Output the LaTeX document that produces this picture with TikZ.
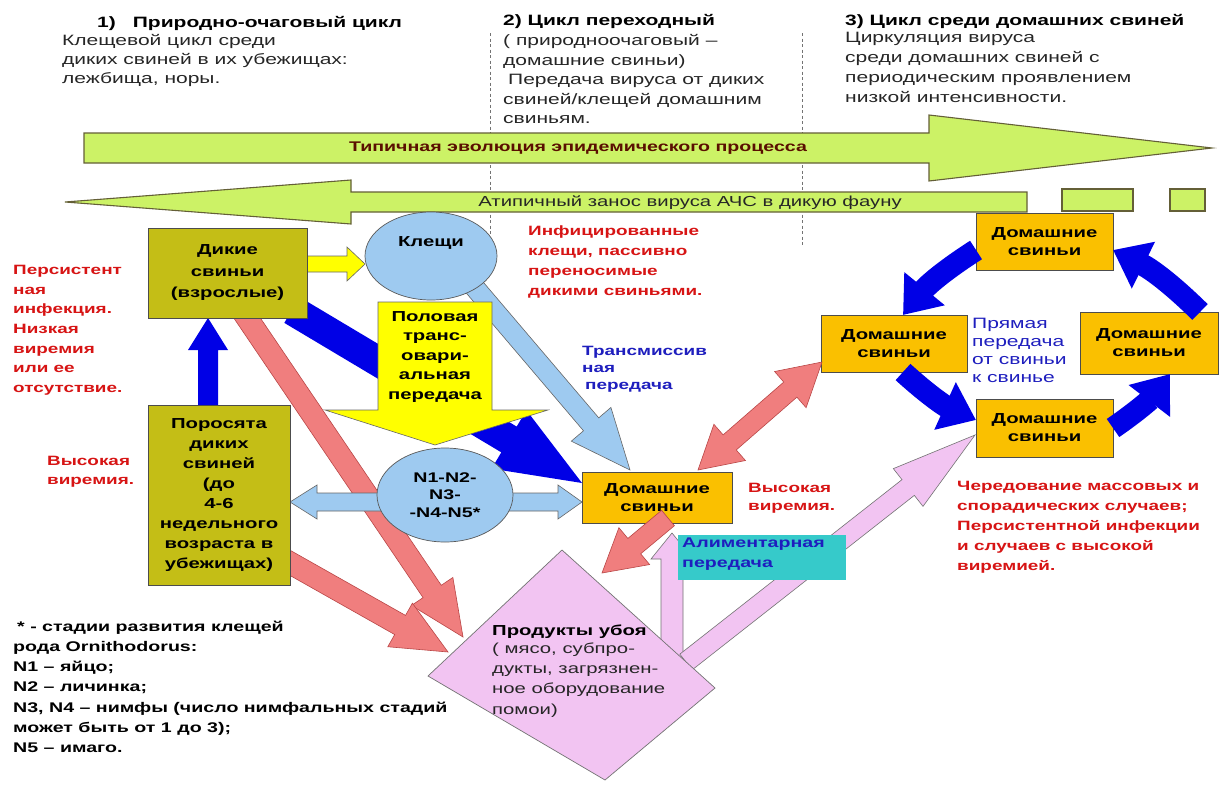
\documentclass[tikz,border=0pt]{standalone}
\usepackage{fontspec}
\setmainfont{Liberation Sans}[FakeStretch=1.4]
\usetikzlibrary{calc,arrows.meta,shapes.geometric}
\definecolor{limeg}{RGB}{204,242,102}
\definecolor{limeo}{RGB}{100,95,55}
\definecolor{olivebx}{RGB}{196,190,22}
\definecolor{goldbx}{RGB}{250,192,0}
\definecolor{lblue}{RGB}{158,202,240}
\definecolor{yel}{RGB}{255,255,0}
\definecolor{dblue}{RGB}{0,0,230}
\definecolor{salmon}{RGB}{240,126,126}
\definecolor{salmono}{RGB}{185,70,70}
\definecolor{pinkv}{RGB}{242,196,242}
\definecolor{teal2}{RGB}{54,202,202}
\definecolor{redtxt}{RGB}{215,20,20}
\definecolor{bluetxt}{RGB}{30,30,190}
\definecolor{titletxt}{RGB}{90,15,0}
\newcommand{\blockarrow}[6]{%
  \path[#1] ($(#2)!#4pt!90:(#3)$)
    -- ($(#3)!#6pt!(#2)!#4pt!90:(#3)$)
    -- ($(#3)!#6pt!(#2)!#5pt!90:(#3)$)
    -- (#3)
    -- ($(#3)!#6pt!(#2)!#5pt!-90:(#3)$)
    -- ($(#3)!#6pt!(#2)!#4pt!-90:(#3)$)
    -- ($(#2)!#4pt!-90:(#3)$) -- cycle;}
\newcommand{\dblarrow}[6]{%
  \path[#1] (#2)
    -- ($(#2)!#6pt!(#3)!#5pt!90:(#3)$)
    -- ($(#2)!#6pt!(#3)!#4pt!90:(#3)$)
    -- ($(#3)!#6pt!(#2)!#4pt!90:(#3)$)
    -- ($(#3)!#6pt!(#2)!#5pt!90:(#3)$)
    -- (#3)
    -- ($(#3)!#6pt!(#2)!#5pt!-90:(#3)$)
    -- ($(#3)!#6pt!(#2)!#4pt!-90:(#3)$)
    -- ($(#2)!#6pt!(#3)!#4pt!-90:(#3)$)
    -- ($(#2)!#6pt!(#3)!#5pt!-90:(#3)$)
    -- cycle;}
\begin{document}
\begin{tikzpicture}[x=1pt,y=-1pt,
  every node/.style={inner sep=0pt},
  txt/.style n args={2}{font=\fontsize{#1}{#2}\selectfont, anchor=north west, align=left,
     execute at begin node={\rule{0pt}{.85\dimexpr#1pt\relax}}},
  box/.style={draw=black!70, line width=0.8pt, align=center,
     font=\fontsize{14.5}{18}\selectfont\bfseries},
  olive/.style={box, fill=olivebx},
  gold/.style={box, fill=goldbx},
  greenar/.style={fill=limeg, draw=limeo, line width=1.1pt},
  bluear/.style={fill=dblue},
  redar/.style={fill=salmon, draw=salmono, line width=0.6pt},
  lbluear/.style={fill=lblue, draw=black!60, line width=0.6pt},
  yelar/.style={fill=yel, draw=black!60, line width=0.6pt},
  pinkar/.style={fill=pinkv, draw=black!55, line width=0.6pt},
  ringar/.style={line width=22pt, draw=dblue, -{Triangle[width=50pt,length=34pt]}},
  sep/.style={draw=black!55, line width=0.9pt, dash pattern=on 3pt off 2.5pt}
]
\useasboundingbox[fill=white] (0,0) rectangle (1225,787);

% ---- header texts
\node[txt={15}{19.5}, font=\fontsize{15}{19.5}\selectfont\bfseries] (h1) at (97,14.2) {1)\hspace{17pt}Природно-очаговый цикл};
\node[txt={15}{19}, text=black!85] (b1) at (62,34.2) {Клещевой цикл среди\\диких свиней в их убежищах:\\лежбища, норы.};
\node[txt={15}{19.5}, font=\fontsize{15}{19.5}\selectfont\bfseries] (h2) at (503,12.2) {2) Цикл переходный};
\node[txt={15}{19.5}, text=black!85] (b2) at (503,34.2) {( природноочаговый –\\домашние свиньи)\\\hspace{5pt}Передача вируса от диких\\свиней/клещей домашним\\свиньям.};
\node[txt={15}{20}, font=\fontsize{15}{20}\selectfont\bfseries] (h3) at (845,12.2) {3) Цикл среди домашних свиней};
\node[txt={15}{20}, text=black!85] (b3) at (845,32.2) {Циркуляция вируса\\среди домашних свиней с\\периодическим проявлением\\низкой интенсивности.};

% ---- dashed separators
\coordinate (s1a) at (490,33); \coordinate (s1b) at (490,235);
\coordinate (s2a) at (802,33); \coordinate (s2b) at (802,245);
\draw[sep] (s1a) -- (s1b);
\draw[sep] (s2a) -- (s2b);

% ---- big green arrows
\path[greenar] (84,133) -- (929,133) -- (929,115) -- (1212,148) -- (929,181) -- (929,163) -- (84,163) -- cycle;
\node[font=\fontsize{14}{16}\selectfont\bfseries, text=titletxt] (typ) at (578,148) {Типичная эволюция эпидемического процесса};
\path[greenar] (1027,192) -- (351,192) -- (351,180) -- (65,202) -- (351,224) -- (351,212) -- (1027,212) -- cycle;
\node[font=\fontsize{14.5}{16}\selectfont, text=black!85] (atyp) at (690,203) {Атипичный занос вируса АЧС в дикую фауну};
\node[draw=limeo, line width=1.1pt, fill=limeg, minimum width=71pt, minimum height=22pt] (sq1) at (1097.5,200) {};
\node[draw=limeo, line width=1.1pt, fill=limeg, minimum width=35pt, minimum height=22pt] (sq2) at (1187.5,200) {};

% ---- connector end points
\coordinate (bA) at (292,310);  \coordinate (bB) at (582,483);
\coordinate (dA) at (470,282);  \coordinate (dB) at (630,470);
\coordinate (rA1) at (243,312); \coordinate (rB1) at (463,637);
\coordinate (rA2) at (285,560); \coordinate (rB2) at (448,652);
\coordinate (yA) at (300,264);  \coordinate (yB) at (365,264);
\coordinate (uA) at (208,410);  \coordinate (uB) at (208,318);
\coordinate (lA) at (395,502);  \coordinate (lB) at (290,502);
\coordinate (gA) at (495,502);  \coordinate (gB) at (582,502);
\coordinate (pA) at (672,662);  \coordinate (pB) at (672,533);
\coordinate (qA) at (686,662);  \coordinate (qB) at (975,435);
\coordinate (cA) at (668,518);  \coordinate (cB) at (602,573);
\coordinate (xA) at (698,470);  \coordinate (xB) at (822,362);

% ---- arrows behind the nodes
\blockarrow{bluear}{bA}{bB}{15}{34}{85}
\blockarrow{lbluear}{dA}{dB}{10}{26}{60}
\blockarrow{yelar}{yA}{yB}{8}{17}{18}
\blockarrow{bluear}{uA}{uB}{10}{20}{32}
% yellow transovarial arrow
\path[yelar] (378,302) -- (492,302) -- (492,410) -- (548,410) -- (435,445) -- (325,410) -- (378,410) -- cycle;
\node[align=center, font=\fontsize{14.5}{19.5}\selectfont\bfseries] (polov) at (435,357) {Половая\\транс-\\овари-\\альная\\передача};
\blockarrow{redar}{rA1}{rB1}{11}{25}{55}
\blockarrow{redar}{rA2}{rB2}{11}{25}{55}

% ---- ellipses
\node[ellipse, fill=lblue, draw=black!65, line width=0.7pt, minimum width=132pt, minimum height=88pt] (klesh) at (431,256) {};
\node[font=\fontsize{14.5}{17}\selectfont\bfseries] (kleshT) at (431,243) {Клещи};
\blockarrow{lbluear}{lA}{lB}{9}{17}{27}
\blockarrow{lbluear}{gA}{gB}{9}{17}{24}
\node[ellipse, fill=lblue, draw=black!65, line width=0.7pt, minimum width=136pt, minimum height=94pt, align=center, font=\fontsize{14}{17.5}\selectfont\bfseries] (nymph) at (445,495) {N1-N2-\\N3-\\-N4-N5*};

% ---- boxes
\node[olive, minimum width=159pt, minimum height=90pt, font=\fontsize{14.5}{21.5}\selectfont\bfseries] (dikie) at (227.5,273) {Дикие\\свиньи\\(взрослые)};
\node[olive, minimum width=142pt, minimum height=180pt, font=\fontsize{14.5}{20}\selectfont\bfseries] (poros) at (219,495) {Поросята\\диких\\свиней\\(до\\4-6\\недельного\\возраста в\\убежищах)};
\node[gold, minimum width=150pt, minimum height=51pt] (dom) at (657,497.5) {Домашние\\свиньи};
\node[gold, minimum width=137pt, minimum height=57pt] (rtop) at (1044.5,241.5) {Домашние\\свиньи};
\node[gold, minimum width=146pt, minimum height=57pt] (rleft) at (894,343.5) {Домашние\\свиньи};
\node[gold, minimum width=138pt, minimum height=62pt] (rright) at (1149,343) {Домашние\\свиньи};
\node[gold, minimum width=137pt, minimum height=58pt] (rbot) at (1044.5,428) {Домашние\\свиньи};

% ---- ring arrows
\coordinate (r1a) at (976,250);  \coordinate (r1b) at (903,315);
\coordinate (r2a) at (903,372);  \coordinate (r2b) at (976,420);
\coordinate (r3a) at (1113,428); \coordinate (r3b) at (1170,374);
\coordinate (r4a) at (1200,312); \coordinate (r4b) at (1113,250);
\draw[ringar] (r1a) to[bend right=9] (r1b);
\draw[ringar] (r2a) to[bend right=9] (r2b);
\draw[ringar] (r3a) to[bend right=9] (r3b);
\draw[ringar] (r4a) to[bend right=9] (r4b);

% ---- pink arrows, diamond
\blockarrow{pinkar}{pA}{pB}{11}{21}{26}
\blockarrow{pinkar}{qA}{qB}{10}{24}{85}
\coordinate (dmT) at (562,550); \coordinate (dmR) at (715,688);
\coordinate (dmB) at (605,780); \coordinate (dmL) at (428,676);
\path[fill=pinkv, draw=black!55, line width=0.7pt] (dmT) -- (dmR) -- (dmB) -- (dmL) -- cycle;
\node[txt={14.5}{20.5}, font=\fontsize{14.5}{20.5}\selectfont\bfseries] (prodT) at (492,622.5) {Продукты убоя};
\node[txt={14.5}{20.3}, text=black!85] (prodB) at (492,642.5) {( мясо, субпро-\\дукты, загрязнен-\\ное оборудование\\помои)};
\blockarrow{redar}{cA}{cB}{10}{24}{42}
\dblarrow{redar}{xA}{xB}{10}{24}{42}

% ---- alimentary box
\node[fill=teal2, minimum width=168pt, minimum height=45pt] (alimbox) at (762,557.5) {};
\node[txt={14}{20}, font=\fontsize{14}{20}\selectfont\bfseries, text=bluetxt] (alim) at (682,537.7) {Алиментарная\\передача};

% ---- side labels
\node[txt={13.5}{19.7}, font=\fontsize{13.5}{19.7}\selectfont\bfseries, text=redtxt] (persist) at (13,265) {Персистент\\ная\\инфекция.\\Низкая\\виремия\\или ее\\отсутствие.};
\node[txt={13.5}{19}, font=\fontsize{13.5}{19}\selectfont\bfseries, text=redtxt] (vys1) at (47,456) {Высокая\\виремия.};
\node[txt={13.5}{19.7}, font=\fontsize{13.5}{19.7}\selectfont\bfseries, text=redtxt] (infect) at (528,226) {Инфицированные\\клещи, пассивно\\переносимые\\дикими свиньями.};
\node[txt={13.5}{17}, font=\fontsize{13.5}{17}\selectfont\bfseries, text=bluetxt] (trans) at (582,346) {Трансмиссив\\ная\\\hspace{3pt}передача};
\node[txt={13.5}{18}, font=\fontsize{13.5}{18}\selectfont\bfseries, text=redtxt] (vys2) at (748,483) {Высокая\\виремия.};
\node[txt={15}{18}, text=bluetxt] (pryam) at (972,318.2) {Прямая\\передача\\от свиньи\\к свинье};
\node[txt={13.5}{20}, font=\fontsize{13.5}{20}\selectfont\bfseries, text=redtxt] (chered) at (957,481) {Чередование массовых и\\спорадических случаев;\\Персистентной инфекции\\и случаев с высокой\\виремией.};
\node[txt={14}{20.2}, font=\fontsize{14}{20.2}\selectfont\bfseries] (foot) at (13,620.7) {\hspace{4pt}* - стадии развития клещей\\рода Ornithodorus:\\N1 – яйцо;\\N2 – личинка;\\N3, N4 – нимфы (число нимфальных стадий\\может быть от 1 до 3);\\N5 – имаго.};
\end{tikzpicture}
\end{document}
